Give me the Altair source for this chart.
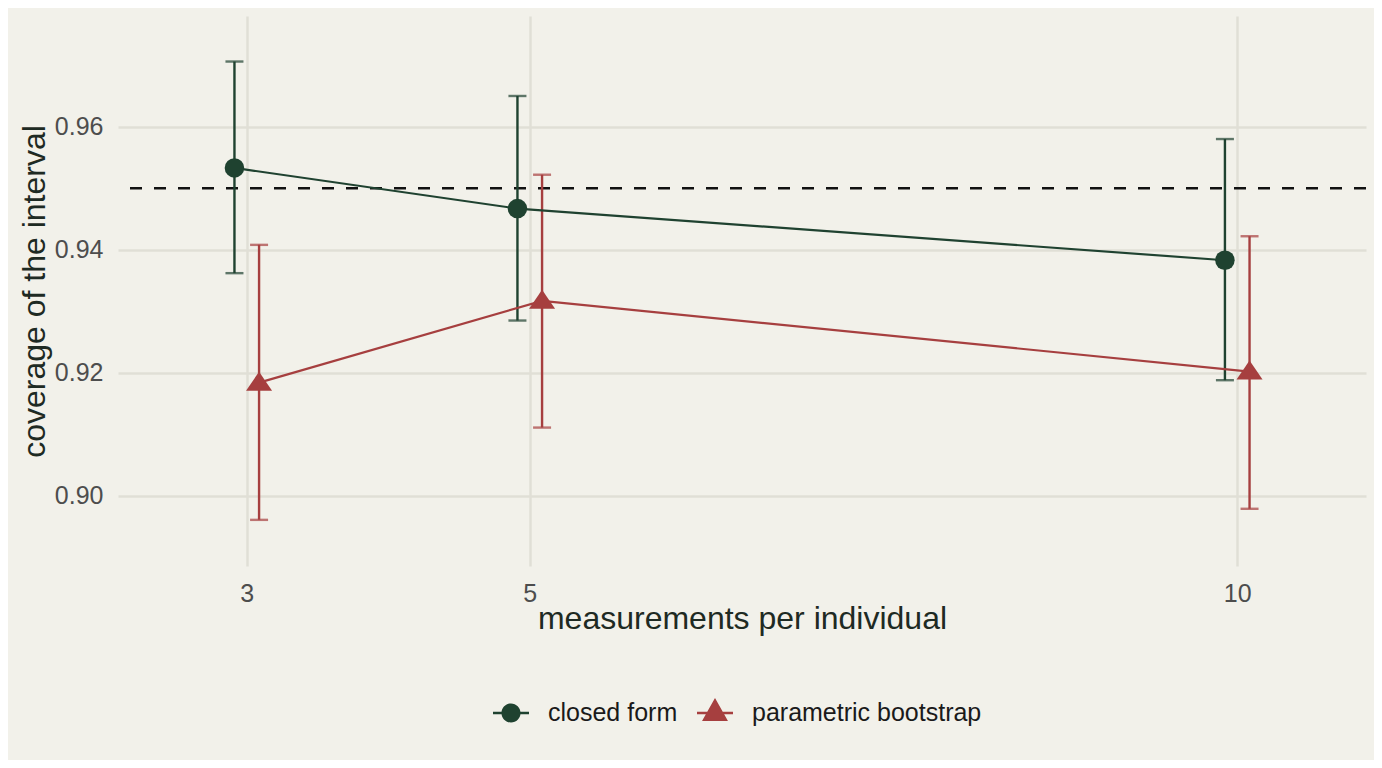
import altair as alt
import pandas as pd

# ---- data ----
n_values = [3, 5, 10]
methods = ["closed form", "parametric bootstrap"]
closed_mean = [0.9533, 0.9467, 0.9383]
closed_lo = [0.9362, 0.9285, 0.9188]
closed_hi = [0.9706, 0.9650, 0.9580]
boot_mean = [0.9184, 0.9317, 0.9202]
boot_lo = [0.8961, 0.9111, 0.8979]
boot_hi = [0.9408, 0.9522, 0.9422]
target = [0.95]
y_ticks = [0.90, 0.92, 0.94, 0.96]

rows = []
for m, means, los, his in zip(methods, [closed_mean, boot_mean], [closed_lo, boot_lo], [closed_hi, boot_hi]):
    for n, a, b, c in zip(n_values, means, los, his):
        rows.append({"n": n, "method": m, "coverage": a, "lo": b, "hi": c})
df = pd.DataFrame(rows)

GREEN = "#1f4230"
RED = "#a63f3f"
BG = "#f2f1ea"
FONT = "Liberation Sans"

color_scale = alt.Scale(domain=methods, range=[GREEN, RED])
x_scale = alt.Scale(domain=[2.09, 10.91], nice=False, zero=False)
y_scale = alt.Scale(domain=[0.8886, 0.978], nice=False, zero=False)
XT = "measurements per individual"
YT = "coverage of the interval"

x_axis = alt.Axis(values=n_values, format="d", labelPadding=15, titlePadding=-3)
y_axis = alt.Axis(values=y_ticks, format=".2f", labelPadding=15, titlePadding=3)

base = alt.Chart(df).transform_calculate(
    xpos="datum.n + (datum.method == 'closed form' ? -0.087 : 0.087)"
)
X = alt.X("xpos:Q", scale=x_scale, axis=x_axis, title=XT)
col = alt.Color("method:N", scale=color_scale, legend=None)

legend_def = alt.Legend(
    title=None, orient="none", legendX=375, legendY=679, direction="horizontal",
    symbolSize=1296, symbolStrokeWidth=0, symbolOpacity=1,
    labelFontSize=25, labelColor="#1a1a1a", labelFont=FONT, labelLimit=600,
    labelOffset=19, columnPadding=19, padding=0,
)

p_circle_leg = "M-1,-0.065H1V0.065H-1Z M0.53,0A0.53,0.53,0,1,1,-0.53,0A0.53,0.53,0,1,1,0.53,0Z"
p_tri_leg = "M-1,-0.065H1V0.065H-1Z M0,-0.83L0.72,0.44L-0.72,0.44Z"
p_tri = "M0,-0.88L1.04,0.64L-1.04,0.64Z"

legend_layer = base.mark_point(filled=True, opacity=0).encode(
    x=X,
    y=alt.Y("coverage:Q", scale=y_scale, axis=y_axis, title=YT),
    color=alt.Color("method:N", scale=color_scale, legend=legend_def),
    shape=alt.Shape("method:N", scale=alt.Scale(domain=methods, range=[p_circle_leg, p_tri_leg]), legend=legend_def),
)

ref_line = alt.Chart(pd.DataFrame({"target": target})).mark_rule(
    strokeDash=[12, 12], strokeWidth=2.6, color="#111111"
).encode(y=alt.Y("target:Q", scale=y_scale, title=YT))

bars = base.mark_rule(strokeWidth=2.4).encode(
    x=X, y=alt.Y("lo:Q", scale=y_scale, title=YT), y2="hi:Q", color=col
)
cap_lo = base.mark_tick(orient="horizontal", size=18, thickness=2.4).encode(
    x=X, y=alt.Y("lo:Q", scale=y_scale, title=YT), color=col
)
cap_hi = base.mark_tick(orient="horizontal", size=18, thickness=2.4).encode(
    x=X, y=alt.Y("hi:Q", scale=y_scale, title=YT), color=col
)
lines = base.mark_line(strokeWidth=2.2).encode(
    x=X, y=alt.Y("coverage:Q", scale=y_scale, title=YT), color=col
)
pts_c = base.transform_filter("datum.method == 'closed form'").mark_point(
    shape="circle", filled=True, size=380, opacity=1
).encode(x=X, y=alt.Y("coverage:Q", scale=y_scale, title=YT), color=col)
pts_t = base.transform_filter("datum.method == 'parametric bootstrap'").mark_point(
    shape=p_tri, filled=True, size=625, opacity=1
).encode(x=X, y=alt.Y("coverage:Q", scale=y_scale, title=YT), color=col)

chart = alt.layer(
    legend_layer, ref_line, bars, cap_lo, cap_hi, lines, pts_c, pts_t
).properties(
    width=1248, height=550,
    padding={"left": 110, "top": 8, "right": 8, "bottom": 194},
    autosize="none",
).configure(
    background=BG,
).configure_view(
    stroke=None,
).configure_axis(
    domain=False, ticks=False,
    grid=True, gridColor="#e0dfd6", gridWidth=2.5,
    labelFont=FONT, labelFontSize=25, labelColor="#4d4d4d",
    titleFont=FONT, titleFontSize=32, titleColor="#1e2a23", titleFontWeight="normal",
)

chart.save("out.html", embed_options={"renderer": "svg", "actions": False})
